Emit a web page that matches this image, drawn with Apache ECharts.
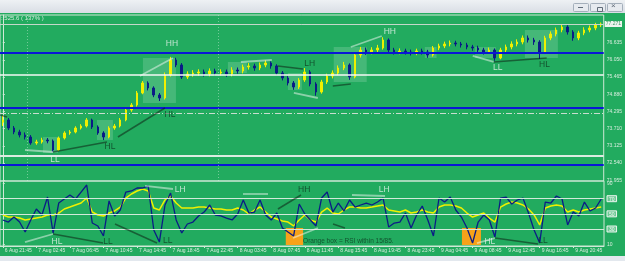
<!DOCTYPE html>
<html><head><meta charset="utf-8">
<script src="https://cdn.jsdelivr.net/npm/echarts@6/dist/echarts.min.js"></script>
<style>html,body{margin:0;padding:0;background:#22ab5f;}#c{width:625px;height:261px;}</style>
</head><body><div id="c"></div>
<script>
// ---------- data ----------
const timeLabels = ['6 Aug 21:45','7 Aug 02:45','7 Aug 06:45','7 Aug 10:45','7 Aug 14:45','7 Aug 18:45','7 Aug 22:45','8 Aug 03:45','8 Aug 07:45','8 Aug 11:45','8 Aug 15:45','8 Aug 19:45','8 Aug 23:45','9 Aug 04:45','9 Aug 08:45','9 Aug 12:45','9 Aug 16:45','9 Aug 20:45'];
const openP = [73.930,74.004,73.731,73.595,73.493,73.425,73.221,73.255,73.323,73.289,72.982,73.391,73.561,73.595,73.731,73.799,74.004,73.765,73.561,73.425,73.731,73.799,74.004,74.344,74.514,74.923,75.263,75.093,74.855,74.752,75.535,76.046,75.876,75.467,75.569,75.603,75.637,75.569,75.671,75.603,75.637,75.569,75.705,75.671,75.808,75.842,75.773,75.876,75.944,75.842,75.603,75.433,75.263,75.127,75.365,75.637,75.229,74.957,75.297,75.501,75.603,75.773,75.876,75.467,76.216,76.386,76.318,76.386,76.454,76.727,76.386,76.318,76.352,76.318,76.284,76.352,76.318,76.216,76.454,76.522,76.590,76.624,76.590,76.556,76.488,76.454,76.386,76.318,76.386,76.114,76.386,76.488,76.590,76.658,76.795,76.727,76.658,76.318,76.795,76.931,77.067,77.169,76.999,76.795,76.965,77.067,77.135,77.237];
const closeP = [74.004,73.731,73.595,73.493,73.425,73.221,73.255,73.323,73.289,72.982,73.391,73.561,73.595,73.731,73.799,74.004,73.765,73.561,73.425,73.731,73.799,74.004,74.344,74.514,74.923,75.263,75.093,74.855,74.752,75.535,76.046,75.876,75.467,75.569,75.603,75.637,75.569,75.671,75.603,75.637,75.569,75.705,75.671,75.808,75.842,75.773,75.876,75.944,75.842,75.603,75.433,75.263,75.127,75.365,75.637,75.229,74.957,75.297,75.501,75.603,75.773,75.876,75.467,76.216,76.386,76.318,76.386,76.454,76.727,76.386,76.318,76.352,76.318,76.284,76.352,76.318,76.216,76.454,76.522,76.590,76.624,76.590,76.556,76.488,76.454,76.386,76.318,76.386,76.114,76.386,76.488,76.590,76.658,76.795,76.727,76.658,76.318,76.795,76.931,77.067,77.169,76.999,76.795,76.965,77.067,77.135,77.237,77.271];
const lowP = [73.80,73.66,73.52,73.41,73.34,73.16,73.16,73.20,73.21,72.91,72.95,73.34,73.50,73.55,73.68,73.75,73.70,73.50,73.32,73.38,73.67,73.75,73.96,74.28,74.46,74.88,75.01,74.78,74.65,74.70,75.48,75.80,75.40,75.40,75.48,75.51,75.48,75.49,75.51,75.52,75.47,75.49,75.58,75.59,75.72,75.68,75.70,75.80,75.75,75.53,75.35,75.18,75.03,75.06,75.30,75.15,74.83,74.90,75.23,75.42,75.53,75.70,75.37,75.42,76.13,76.22,76.24,76.30,76.40,76.30,76.23,76.24,76.23,76.20,76.21,76.23,76.12,76.16,76.38,76.45,76.51,76.51,76.47,76.41,76.36,76.30,76.23,76.25,76.02,76.07,76.31,76.41,76.51,76.58,76.64,76.56,76.08,76.25,76.72,76.85,76.99,76.91,76.70,76.72,76.89,76.99,77.06,77.17];
const highP = [74.15,74.07,73.80,73.67,73.58,73.49,73.33,73.40,73.39,73.34,73.44,73.62,73.66,73.79,73.86,74.07,74.05,73.82,73.62,73.79,73.87,74.07,74.40,74.58,74.99,75.33,75.32,75.15,74.92,75.62,76.15,76.12,75.94,75.66,75.70,75.73,75.72,75.76,75.75,75.73,75.72,75.80,75.79,75.89,75.94,75.92,75.96,76.03,76.00,75.90,75.67,75.50,75.33,75.43,75.77,75.70,75.29,75.37,75.58,75.69,75.86,75.98,75.93,76.30,76.49,76.47,76.48,76.56,76.82,76.78,76.46,76.44,76.43,76.40,76.43,76.43,76.39,76.52,76.60,76.67,76.71,76.70,76.66,76.63,76.56,76.53,76.46,76.47,76.44,76.46,76.57,76.68,76.75,76.88,76.88,76.80,76.72,76.87,77.02,77.15,77.27,77.23,77.06,77.04,77.16,77.22,77.31,77.32];
const rsiValues = [41.9,39.2,45.8,39.2,26.0,41.9,56.4,48.5,72.2,24.7,64.3,69.6,74.9,69.6,78.8,88.1,37.9,34.0,20.8,67.0,47.2,55.1,78.8,80.2,84.1,84.1,86.8,28.7,12.8,61.7,77.5,41.9,24.7,36.6,39.2,47.2,52.4,61.7,48.5,47.2,44.5,41.9,49.8,68.3,51.1,52.4,68.3,48.5,41.9,51.1,31.3,26.0,20.8,63.0,49.8,41.9,34.0,70.9,78.8,52.4,64.3,53.8,68.3,59.0,61.7,64.3,61.7,65.6,70.9,32.6,37.9,39.2,51.1,31.3,48.5,60.4,41.9,20.8,70.9,65.6,72.2,55.1,45.8,31.3,11.5,39.2,48.5,41.9,19.4,70.9,72.2,63.0,68.3,70.9,51.1,28.7,11.5,65.6,64.3,73.6,69.6,35.3,52.4,47.2,65.6,53.8,57.7,69.6];
const rsiSignal = [48.5,45.8,45.8,44.5,41.9,43.2,44.5,45.8,48.5,48.5,51.1,56.4,59.0,61.7,64.3,70.9,52.4,48.5,47.2,51.1,53.8,59.0,70.9,76.2,80.2,82.8,80.2,57.7,55.1,68.3,73.6,64.3,57.7,57.7,57.7,59.0,59.0,57.7,56.4,56.4,55.1,55.1,57.7,55.1,49.8,55.1,59.0,52.4,45.8,43.2,40.6,39.2,34.0,41.9,48.5,41.9,39.2,52.4,57.7,51.1,49.8,55.1,59.0,59.0,57.7,57.7,59.0,60.4,61.7,55.1,53.8,52.4,55.1,51.1,52.4,55.1,52.4,51.1,59.0,61.7,61.7,60.4,57.7,51.1,45.8,48.5,51.1,44.5,39.2,59.0,63.0,65.6,64.3,61.7,56.4,48.5,35.3,57.7,60.4,61.7,60.4,52.4,55.1,52.4,55.1,56.4,57.7,59.0];
const priceTicks = [71.955,72.540,73.125,73.710,74.295,74.880,75.465,76.050,76.635];
const rsiTicks = [10,30,50,70,90];
const rsiBoxedTicks = [30,50,70];
const rsiLevels = [70,50,30];
const blueLevels = [76.301,74.422,72.472];
const whiteLevels = [75.559,72.788];
const dashLevels = [74.232];
const bidPrice = 77.271;
const daySeparators = [4.3,38.5];
// annotations in data units: [barFrom, valueFrom, barTo, valueTo]
const priceWhiteLines = [[3.97,72.982,8.98,72.914],[24.53,75.501,30.43,76.114],[42.59,75.978,48.13,76.046],[52.07,74.923,56.36,74.752],[62.26,76.488,67.80,76.863],[84.07,76.182,87.83,75.978]];
const priceBlackLines = [[-0.5,74.174,0.75,74.106],[8.98,72.914,18.63,73.255],[20.60,73.425,29.00,74.412],[49.20,75.842,53.70,75.740],[59.04,75.161,62.26,75.229],[87.83,75.978,97.30,76.114]];
const priceWhiteNotes = [[9.33,72.642,'LL'],[30.25,76.591,'HH'],[69.23,76.999,'HH'],[88.54,75.773,'LL']];
const priceDarkNotes = [[19.17,73.085,'HL'],[29.9,74.174,'HL'],[54.9,75.910,'LH'],[96.9,75.876,'HL']];
const priceZones = [[7.19,73.425,9.87,72.880],[16.84,74.004,19.70,73.323],[25.07,76.114,30.97,74.582],[40.27,75.978,43.66,75.603],[51.0,75.603,53.5,75.025],[59.2,76.488,65.1,75.297],[75.5,76.488,77.6,76.114],[84.5,76.488,88.2,76.114],[93.4,77.067,99.3,76.114]];
const rsiWhiteLines = [[3.97,12.8,8.98,23.4],[25.43,86.8,30.43,82.8],[42.95,76.2,47.42,76.2],[51.9,18.1,56.36,31.3],[62.44,74.9,68.34,73.6],[84.79,11.5,88.0,18.1]];
const rsiBlackLines = [[8.98,23.4,17.92,11.5],[20.06,36.6,27.57,11.5],[49.2,56.4,53.32,74.9],[59.04,36.6,61.18,31.3],[88.0,18.1,95.7,10.2]];
const rsiWhiteNotes = [[9.69,12.8,'HL'],[31.7,81.5,'LH'],[68.2,81.5,'LH'],[87.1,12.8,'HL']];
const rsiDarkNotes = [[18.8,12.8,'LL'],[29.5,14.2,'LL'],[53.9,81.5,'HH'],[96.6,14.2,'LL']];
const rsiCaption = [[53.7,14.2,'Orange box = RSI within 15/85.']];
const rsiZones = [[50.6,31.3,53.7,8.9],[82.1,31.3,85.5,8.9]];

// ---------- chart ----------
const FONT = 'Liberation Sans';
const YELLOW = '#f0f000', NAVY = '#0b1b86', WHITE = '#f3f8f3', BLACK = '#0c150e', DARKTXT = '#0f3820';
const FRAME = '#cfe8d6', AXTXT = '#d6ecdd';
const N = closeP.length;
const cats = closeP.map((_, i) => i);
const ohlc = closeP.map((c, i) => [openP[i], c, lowP[i], highP[i]]);

const segs = (arr, color, width) => arr.map(a => ({coords: [[a[0], a[1]], [a[2], a[3]]], lineStyle: {color: color, width: width}}));
const notes = (arr, color) => arr.map(a => ({value: [a[0], a[1]], name: a[2], label: {color: color}}));
const zones = arr => arr.map(a => [{coord: [a[0], a[1]]}, {coord: [a[2], a[3]]}]);

const chart = echarts.init(document.getElementById('c'), null, {renderer: 'canvas'});
chart.setOption({
  animation: false,
  backgroundColor: '#22ab5f',
  textStyle: {fontFamily: FONT},
  grid: [
    {left: 0, right: 21, top: 15, height: 166, show: true, borderColor: FRAME, borderWidth: 1},
    {left: 0, right: 21, top: 181, height: 65, show: true, borderColor: FRAME, borderWidth: 1}
  ],
  xAxis: [
    {type: 'category', gridIndex: 0, data: cats, show: false, boundaryGap: true},
    {type: 'value', gridIndex: 0, min: -0.5, max: N - 0.5, show: false},
    {type: 'category', gridIndex: 1, data: cats, boundaryGap: true,
      axisLine: {show: true, lineStyle: {color: FRAME}},
      axisTick: {show: true, alignWithLabel: true, length: 2, interval: i => i % 6 === 0, lineStyle: {color: FRAME}},
      axisLabel: {interval: i => i % 6 === 0, formatter: (v, i) => timeLabels[Math.round(i / 6)] || '', fontSize: 5, color: AXTXT, align: 'left', margin: 2, padding: [0, 0, 0, 2], fontFamily: FONT},
      splitLine: {show: false}},
    {type: 'value', gridIndex: 1, min: -0.5, max: N - 0.5, show: false}
  ],
  yAxis: [
    {type: 'value', gridIndex: 0, position: 'right', min: 71.927, max: 77.577, scale: true,
      splitLine: {show: false},
      axisLine: {show: true, lineStyle: {color: FRAME}},
      axisTick: {show: true, customValues: priceTicks, length: 2, lineStyle: {color: FRAME}},
      axisLabel: {customValues: priceTicks, formatter: v => v.toFixed(3), fontSize: 5, color: AXTXT, margin: 3, fontFamily: FONT}},
    {type: 'value', gridIndex: 1, position: 'right', min: 7.56, max: 93.37,
      splitLine: {show: false},
      axisLine: {show: true, lineStyle: {color: FRAME}},
      axisTick: {show: true, customValues: rsiTicks, length: 2, lineStyle: {color: FRAME}},
      axisLabel: {customValues: rsiTicks, margin: 3, fontFamily: FONT,
        formatter: v => rsiBoxedTicks.indexOf(v) >= 0 ? '{b|' + v + '}' : '{p|' + v + '}',
        rich: {
          b: {fontSize: 5, color: '#f4faf5', backgroundColor: 'rgba(255,255,255,0.35)', borderColor: '#e8f4ec', borderWidth: 0.5, padding: [1, 2, 0, 2], fontFamily: FONT},
          p: {fontSize: 5, color: AXTXT, fontFamily: FONT}
        }}}
  ],
  series: [
    {type: 'line', xAxisIndex: 1, yAxisIndex: 0, data: [], z: 1, silent: true,
      markArea: {silent: true, itemStyle: {color: 'rgba(255,255,255,0.16)'}, data: zones(priceZones)}},
    {type: 'line', xAxisIndex: 1, yAxisIndex: 0, data: [], z: 2, silent: true,
      markLine: {silent: true, symbol: 'none', label: {show: false}, animation: false,
        data: [].concat(
          blueLevels.map(v => ({yAxis: v, lineStyle: {color: '#0a16d6', width: 2, type: 'solid'}})),
          [{yAxis: whiteLevels[0], lineStyle: {color: '#f4f8f4', width: 1.5, type: 'solid'}},
           {yAxis: whiteLevels[1], lineStyle: {color: '#dcece1', width: 2, type: 'solid'}}],
          dashLevels.map(v => ({yAxis: v, lineStyle: {color: '#c9ddcf', width: 1, type: [6, 2, 1, 2]}})),
          daySeparators.map(v => ({xAxis: v, lineStyle: {color: 'rgba(215,240,222,0.45)', width: 1, type: [1, 2]}}))
        )}},
    {type: 'candlestick', xAxisIndex: 0, yAxisIndex: 0, data: ohlc, barWidth: 2, z: 3,
      itemStyle: {color: YELLOW, color0: NAVY, borderColor: YELLOW, borderColor0: NAVY, borderWidth: 1},
      markLine: {silent: true, symbol: 'none', animation: false,
        data: [{yAxis: bidPrice, lineStyle: {color: '#c4d8ca', width: 1, type: 'solid'},
          label: {show: true, position: 'end', formatter: bidPrice.toFixed(3), fontSize: 5, color: '#3b9a62', backgroundColor: '#eef4ef', padding: [1, 1, 0, 1], distance: 1, fontFamily: FONT}}]}},
    {type: 'lines', coordinateSystem: 'cartesian2d', xAxisIndex: 1, yAxisIndex: 0, z: 5, silent: true,
      data: segs(priceWhiteLines, WHITE, 1.8).concat(segs(priceBlackLines, BLACK, 1.5))},
    {type: 'scatter', xAxisIndex: 1, yAxisIndex: 0, symbolSize: 0, z: 6, silent: true,
      label: {show: true, position: 'inside', formatter: p => p.name, fontSize: 8.5, fontFamily: FONT},
      data: notes(priceWhiteNotes, '#e9f4ec').concat(notes(priceDarkNotes, DARKTXT))},

    {type: 'line', xAxisIndex: 3, yAxisIndex: 1, data: [], z: 1, silent: true,
      markArea: {silent: true, itemStyle: {color: '#f7a21a'}, data: zones(rsiZones)},
      markLine: {silent: true, symbol: 'none', label: {show: false}, animation: false,
        data: rsiLevels.map(v => ({yAxis: v, lineStyle: {color: '#d3eada', width: 1, type: 'solid'}}))}},
    {type: 'line', xAxisIndex: 2, yAxisIndex: 1, data: rsiSignal, symbol: 'none', z: 3,
      lineStyle: {color: YELLOW, width: 1.5}},
    {type: 'line', xAxisIndex: 2, yAxisIndex: 1, data: rsiValues, symbol: 'none', z: 4,
      lineStyle: {color: NAVY, width: 1.3}},
    {type: 'lines', coordinateSystem: 'cartesian2d', xAxisIndex: 3, yAxisIndex: 1, z: 5, silent: true,
      data: segs(rsiWhiteLines, WHITE, 1.8).concat(segs(rsiBlackLines, BLACK, 1.5))},
    {type: 'scatter', xAxisIndex: 3, yAxisIndex: 1, symbolSize: 0, z: 6, silent: true,
      label: {show: true, position: 'inside', formatter: p => p.name, fontSize: 8.5, fontFamily: FONT},
      data: notes(rsiWhiteNotes, '#e9f4ec').concat(notes(rsiDarkNotes, DARKTXT))},
    {type: 'scatter', xAxisIndex: 3, yAxisIndex: 1, symbolSize: 0, z: 6, silent: true,
      label: {show: true, position: 'inside', align: 'left', formatter: p => p.name, fontSize: 6.5, color: DARKTXT, fontFamily: FONT},
      data: rsiCaption.map(a => ({value: [a[0], a[1]], name: a[2]}))}
  ],
  graphic: [
    {type: 'rect', left: 0, top: 0, shape: {width: 625, height: 13}, z: 50,
      style: {fill: new echarts.graphic.LinearGradient(0, 0, 0, 1, [{offset: 0, color: '#eef1f4'}, {offset: 1, color: '#d9dee5'}])}},
    {type: 'rect', left: 573, top: 3, shape: {width: 15, height: 8, r: 1}, z: 51, style: {fill: '#e6eaef', stroke: '#a4afbb', lineWidth: 1}},
    {type: 'rect', left: 590, top: 3, shape: {width: 15, height: 8, r: 1}, z: 51, style: {fill: '#e6eaef', stroke: '#a4afbb', lineWidth: 1}},
    {type: 'rect', left: 607, top: 3, shape: {width: 15, height: 8, r: 1}, z: 51, style: {fill: '#e6eaef', stroke: '#a4afbb', lineWidth: 1}},
    {type: 'rect', left: 578, top: 7, shape: {width: 5, height: 1}, z: 52, style: {fill: '#5f6b78'}},
    {type: 'rect', left: 595, top: 5, shape: {width: 5, height: 4}, z: 52, style: {fill: 'none', stroke: '#5f6b78', lineWidth: 1}},
    {type: 'text', left: 611, top: 2, z: 52, style: {text: '×', fill: '#5f6b78', font: '8px ' + FONT}},
    {type: 'text', left: 1, top: 15, z: 52, style: {text: ': 525.6 ( 137% )', fill: '#d3eadb', font: '6px ' + FONT}},
    {type: 'rect', left: 0, top: 256, shape: {width: 625, height: 5}, z: 50, style: {fill: '#e3e8ee'}}
  ]
});
</script></body></html>
